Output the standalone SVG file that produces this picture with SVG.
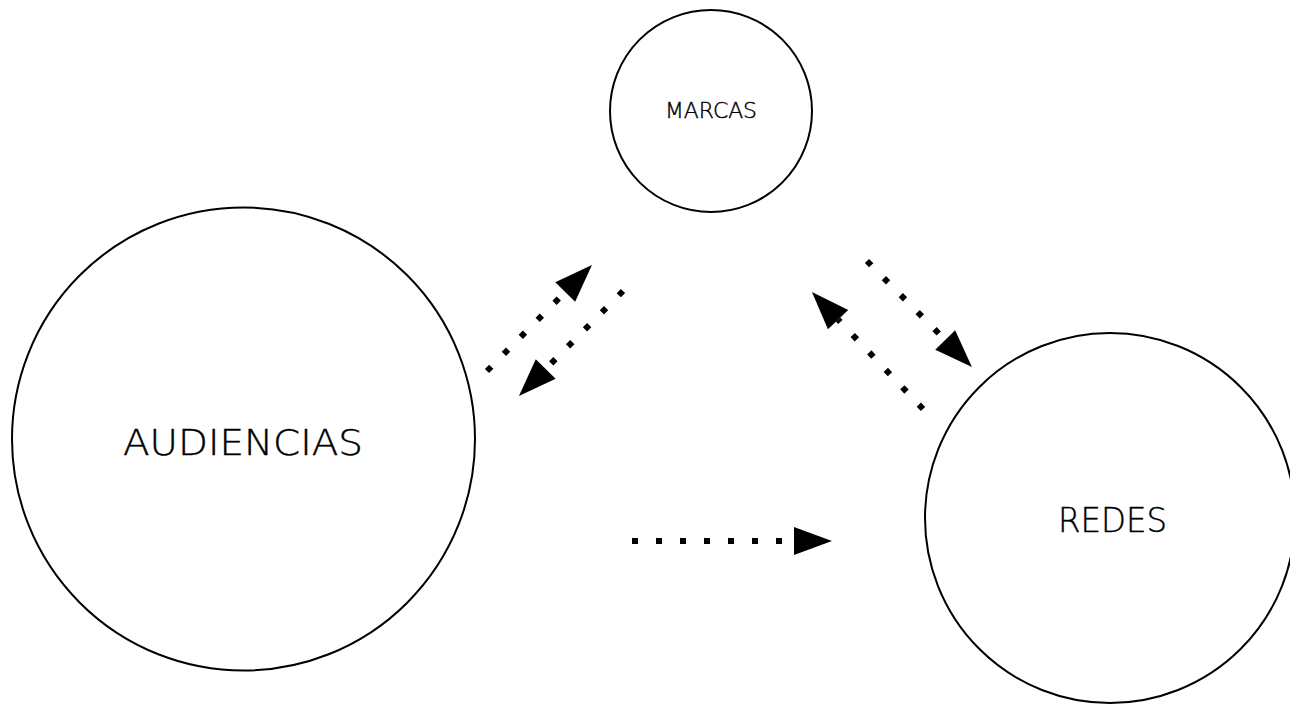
<svg xmlns="http://www.w3.org/2000/svg" width="1290" height="704" viewBox="0 0 1290 704">
  <style>
    .node { fill: #ffffff; stroke: #000000; stroke-width: 2; }
    .label { font-family: "DejaVu Sans", "Liberation Sans", sans-serif; font-weight: 300; fill: #000000; stroke: #000000; stroke-width: 0.4; }
    .conn { fill: none; stroke: #000000; stroke-width: 6; stroke-dasharray: 6 18; stroke-linecap: butt; marker-end: url(#arrow); }
  </style>
  <defs>
    <marker id="arrow" markerUnits="userSpaceOnUse" markerWidth="40" markerHeight="30" refX="0" refY="14" orient="auto" viewBox="0 0 40 30" overflow="visible">
      <path d="M0,0 L38,14 L0,28 Z" fill="#000000"/>
    </marker>
  </defs>
  <rect x="0" y="0" width="1290" height="704" fill="#ffffff"/>

  <g id="node-marcas">
    <circle class="node" cx="711" cy="111" r="101"/>
    <text class="label" x="665" y="118" font-size="21" textLength="92" lengthAdjust="spacingAndGlyphs">MARCAS</text>
  </g>
  <g id="node-audiencias">
    <circle class="node" cx="243.5" cy="439" r="231.5"/>
    <text class="label" x="123" y="455" font-size="36" textLength="240" lengthAdjust="spacingAndGlyphs">AUDIENCIAS</text>
  </g>
  <g id="node-redes">
    <circle class="node" cx="1110" cy="518" r="185"/>
    <text class="label" x="1058" y="532" font-size="33" textLength="109" lengthAdjust="spacingAndGlyphs">REDES</text>
  </g>

  <g id="connectors">
    <path class="conn" d="M487,371 L565.2,292"/>
    <path class="conn" d="M623,291 L545.7,369"/>
    <path class="conn" d="M867,261 L945.2,340"/>
    <path class="conn" d="M923,409 L838.1,319.6"/>
    <path class="conn" d="M632,541 L794,541"/>
  </g>
</svg>
